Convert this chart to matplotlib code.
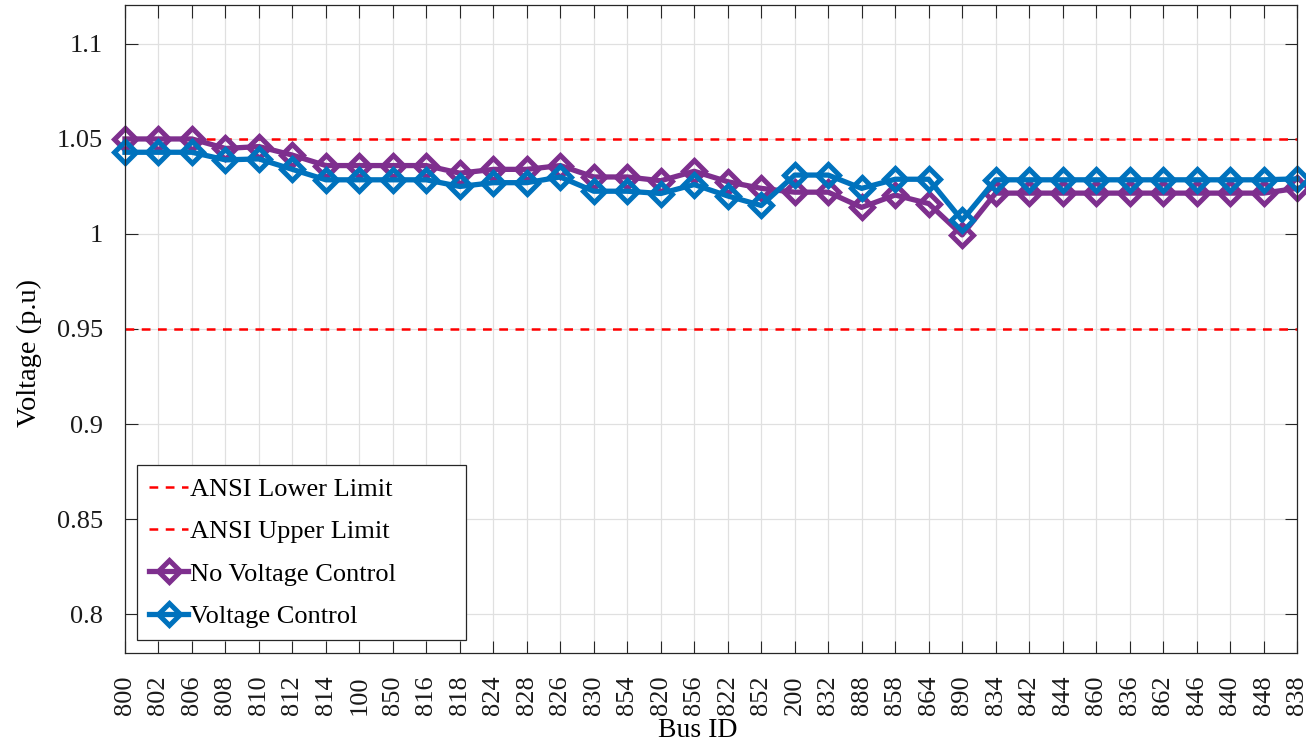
import matplotlib
matplotlib.use('Agg')
import matplotlib.pyplot as plt
from matplotlib.ticker import FuncFormatter

# bus order along the feeder
buses = ['800', '802', '806', '808', '810', '812', '814', '100', '850', '816',
         '818', '824', '828', '826', '830', '854', '820', '856', '822', '852',
         '200', '832', '888', '858', '864', '890', '834', '842', '844', '860',
         '836', '862', '846', '840', '848', '838']

# voltages (p.u.)
v_no_control = [1.050, 1.050, 1.050, 1.045, 1.046, 1.0415, 1.036, 1.036, 1.036, 1.036,
                1.032, 1.034, 1.034, 1.036, 1.030, 1.030, 1.028, 1.033, 1.0275, 1.024,
                1.022, 1.022, 1.014, 1.0205, 1.016, 0.9995, 1.0215, 1.0215, 1.0215, 1.0215,
                1.0215, 1.0215, 1.0215, 1.0215, 1.0215, 1.024]
v_control = [1.043, 1.043, 1.043, 1.039, 1.0395, 1.034, 1.0285, 1.0285, 1.0285, 1.0285,
             1.025, 1.027, 1.027, 1.030, 1.0225, 1.0225, 1.0213, 1.026, 1.020, 1.015,
             1.031, 1.031, 1.024, 1.0288, 1.0288, 1.0072, 1.0285, 1.0285, 1.0285, 1.0285,
             1.0285, 1.0285, 1.0285, 1.0285, 1.0285, 1.029]

ansi_lower = 0.95
ansi_upper = 1.05

plt.rcParams['font.family'] = ['Liberation Serif', 'DejaVu Serif']
plt.rcParams['font.size'] = 19

x = list(range(1, len(buses) + 1))

fig = plt.figure(figsize=(13.06, 7.44), dpi=100)
ax = fig.add_axes([0.0957, 0.1223, 0.8974, 0.871])

ax.plot([x[0], x[-1]], [ansi_lower, ansi_lower], color='red', linestyle='--',
        dashes=(3.5, 3), linewidth=1.8, label='ANSI Lower Limit')
ax.plot([x[0], x[-1]], [ansi_upper, ansi_upper], color='red', linestyle='--',
        dashes=(3.5, 3), linewidth=1.8, label='ANSI Upper Limit')

ax.plot(x, v_no_control, color='#7E2F8E', linewidth=3.8, marker='D', markersize=11,
        markerfacecolor='none', markeredgewidth=3.6, label='No Voltage Control', clip_on=False)
ax.plot(x, v_control, color='#0072BD', linewidth=3.8, marker='D', markersize=11,
        markerfacecolor='none', markeredgewidth=3.6, label='Voltage Control', clip_on=False)

ax.set_xlim(1, len(buses))
ax.set_ylim(0.7795, 1.1205)
ax.set_xticks(x)
ax.set_xticklabels(buses, rotation=90)
ax.set_yticks([0.8, 0.85, 0.9, 0.95, 1.0, 1.05, 1.1])
ax.yaxis.set_major_formatter(FuncFormatter(lambda v, p: f'{v:g}'))

ax.grid(True, color='#e0e0e0', linewidth=0.9)
ax.set_axisbelow(True)
ax.tick_params(direction='in', length=9, width=0.8, top=True, right=True,
               colors='#262626', labelcolor='#1a1a1a')
ax.tick_params(axis='y', pad=16)
ax.tick_params(axis='x', pad=16)
for s in ax.spines.values():
    s.set_color('#262626')
    s.set_linewidth(0.9)

ax.set_xlabel('Bus ID', fontsize=20, va='baseline')
ax.xaxis.set_label_coords(0.489, -0.130)
ax.set_ylabel('Voltage (p.u)', fontsize=20.5)
ax.yaxis.set_label_coords(-0.0708, 0.463)

leg = ax.legend(loc='lower left', bbox_to_anchor=(0.0102, 0.020, 0.281, 0.2), mode='expand',
                borderaxespad=0, fancybox=False, framealpha=1, edgecolor='#262626',
                handlelength=1.5, handletextpad=0.05, labelspacing=0.72, borderpad=0.45)
leg.get_frame().set_linewidth(0.9)

fig.savefig('out.png', dpi=100)
